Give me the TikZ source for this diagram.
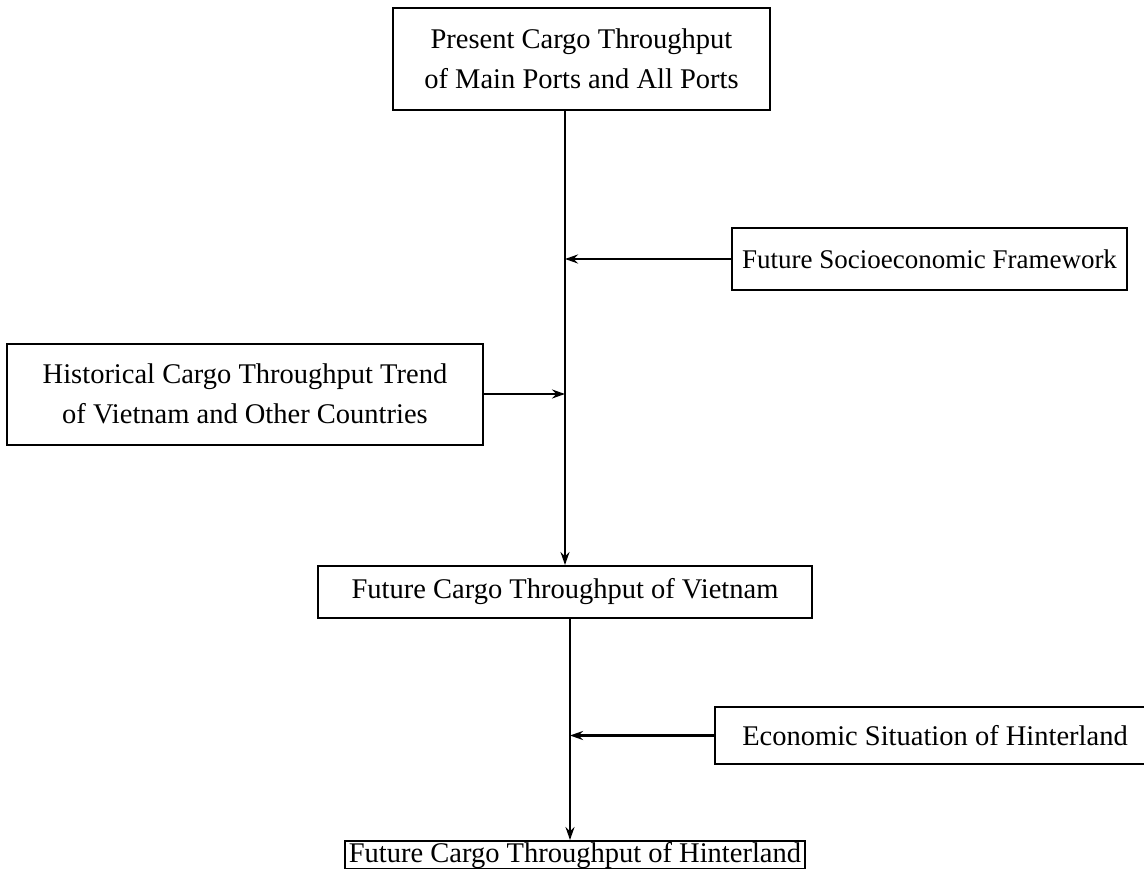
\documentclass[tikz,border=0pt]{standalone}
\usepackage{fontspec}
\setmainfont{Liberation Serif}
\usetikzlibrary{arrows.meta}
\begin{document}
\begin{tikzpicture}[x=1pt,y=-1pt,
  box/.style={draw,line width=2pt,inner sep=0pt,align=center,
    font=\fontsize{28.5}{40}\selectfont},
  conn/.style={line width=2.4pt,-{Stealth[length=13pt,width=9pt]}}]
\useasboundingbox (0,0) rectangle (1144,869);
\clip (0,0) rectangle (1144,869);
\node[box,minimum width=377pt,minimum height=102pt] (top) at (581.5,59)
  {Present Cargo Throughput\\of Main Ports and All Ports};
\node[box,minimum width=395pt,minimum height=62pt,font=\fontsize{27}{40}\selectfont] (socio) at (929.5,259)
  {Future Socioeconomic Framework};
\node[box,minimum width=476pt,minimum height=101pt] (hist) at (245,394)
  {Historical Cargo Throughput Trend\\of Vietnam and Other Countries};
\node[box,minimum width=494pt,minimum height=52pt] (viet) at (565,592)
  {Future Cargo Throughput of Vietnam};
\node[box,minimum width=440pt,minimum height=57pt] (econ) at (935,735.5)
  {Economic Situation of Hinterland};
\node[box,minimum width=460pt,minimum height=28pt,text height=19pt,text depth=5pt] (hint) at (575,855)
  {Future Cargo Throughput of Hinterland};
\coordinate (lowx) at (570,0);
\draw[conn] (top.south -| viet.north) -- (viet.north);
\draw[conn] (socio.west) -- (socio.west -| viet.north);
\draw[conn] (hist.east) -- (hist.east -| viet.north);
\draw[conn] (viet.south -| lowx) -- (hint.north -| lowx);
\draw[conn] (econ.west) -- (econ.west -| lowx);
\end{tikzpicture}
\end{document}
